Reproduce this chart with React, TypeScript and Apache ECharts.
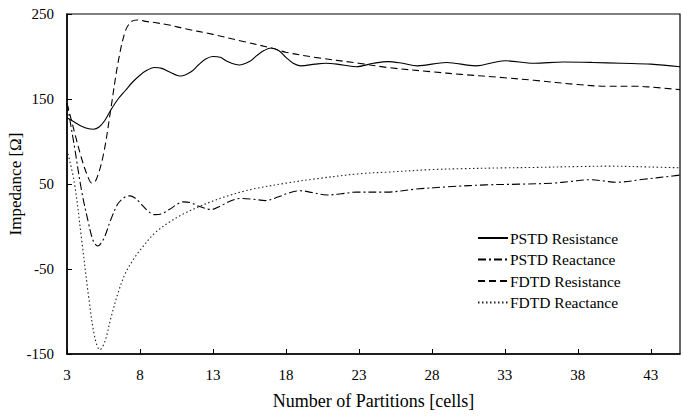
import React, { useEffect, useRef } from "react";
import * as echarts from "echarts";

// x: number of partitions [cells], y: impedance [Ω]
const pstdResistance: number[][] = [
  [3, 128], [3.5, 123], [4, 118], [4.5, 115], [4.8, 114.5], [5.2, 117], [5.6, 125], [6, 137],
  [6.5, 150], [7, 160], [7.5, 170], [8, 178], [8.5, 184], [9, 187], [9.5, 186], [10, 182],
  [10.8, 177], [11.5, 182], [12, 190], [12.5, 197], [13, 200], [13.5, 199], [14, 194], [14.8, 190],
  [15.5, 194], [16, 201], [16.5, 207], [17, 210], [17.5, 207], [18, 199], [18.5, 192], [19, 189],
  [20, 191], [20.7, 192], [21.5, 191], [22.8, 188], [24, 192], [25, 194], [26, 192], [27, 189],
  [29, 193], [31, 189], [33, 195], [35, 192], [37, 193.5], [39, 193], [41, 192], [43, 191], [45, 188],
];

const pstdReactance: number[][] = [
  [3, 145], [3.5, 95], [4, 42], [4.5, 2], [4.8, -17], [5.1, -23], [5.5, -15], [6, 8], [6.5, 27],
  [7, 35], [7.3, 36], [7.7, 33], [8, 28], [8.5, 19], [9, 14], [9.5, 15], [10, 20], [11, 29],
  [11.5, 28], [12, 24], [12.9, 20], [13.5, 24], [14.2, 30], [14.9, 33], [15.8, 32], [16.6, 30.5],
  [17.5, 35], [18.3, 40], [19, 42], [19.8, 40], [20.8, 37], [21.8, 38.5], [22.85, 40.5], [24.9, 40.5],
  [26.9, 44], [29.4, 47], [31.7, 49], [34, 49.8], [36.3, 51], [37.5, 53], [38.8, 55], [39.8, 53.5],
  [40.6, 52], [42.5, 55.5], [44.5, 59.5], [45, 60.5],
];

const fdtdResistance: number[][] = [
  [3, 145], [3.5, 112], [4, 80], [4.4, 60], [4.7, 51], [5, 55], [5.5, 85], [6, 138], [6.5, 193],
  [7, 230], [7.4, 241], [7.8, 243], [8.5, 241], [9, 240], [10, 237], [11, 233], [13, 226], [15, 218],
  [17, 210], [18, 205], [20, 199], [23, 192], [25, 187], [28, 182], [30, 179], [33, 175], [35, 172],
  [38, 167], [40, 165], [42, 165], [43, 164], [45, 161],
];

const fdtdReactance: number[][] = [
  [3, 90], [3.5, 52], [4, -15], [4.5, -85], [4.9, -130], [5.25, -145], [5.6, -135], [6, -108],
  [6.5, -78], [7, -55], [7.5, -40], [8, -28], [9, -8], [10, 5], [11, 15], [12, 23], [13, 30],
  [14, 36], [15, 41], [16, 45], [18, 51], [20, 56], [23, 62], [25, 64], [28, 67], [30, 68],
  [33, 69], [35, 69.5], [38, 70.5], [40, 71], [43, 70], [45, 69],
];

const seriesNames = ["PSTD Resistance", "PSTD Reactance", "FDTD Resistance", "FDTD Reactance"];

// Axis ranges (ticks 3, 8, ..., 43 and -150, -50, ..., 250)
const X_MIN = 3;
const X_MAX = 45;
const X_STEP = 5;
const Y_MIN = -150;
const Y_MAX = 250;
const Y_STEP = 100;

const FONT = "Liberation Serif, Times New Roman, serif";

// shift data so the axis minimum sits at 0 (ticks counted from a multiple of the interval)
const shift = (pts: number[][]) => pts.map(([x, y]) => [x - X_MIN, y - Y_MIN]);

export default function App() {
  const ref = useRef<HTMLDivElement>(null);

  useEffect(() => {
    if (!ref.current) return;
    const chart = echarts.init(ref.current, null, { renderer: "svg" });

    const mk = (name: string, pts: number[][], type: any, color: string, width: number) => ({
      name,
      type: "line",
      data: shift(pts),
      smooth: 0.35,
      symbol: "none",
      lineStyle: { color, width, type },
      itemStyle: { color },
    });

    chart.setOption({
      animation: false,
      backgroundColor: "#fff",
      textStyle: { fontFamily: FONT },
      grid: {
        left: 67,
        right: 4,
        top: 14,
        bottom: 63,
        containLabel: false,
        outerBoundsMode: "none",
        show: true,
        borderColor: "#000",
        borderWidth: 1.2,
        backgroundColor: "transparent",
      },
      legend: {
        orient: "vertical",
        left: 477,
        top: 230,
        padding: 0,
        itemWidth: 30,
        itemHeight: 14,
        itemGap: 5.5,
        data: seriesNames,
        itemStyle: { opacity: 0 },
        textStyle: { fontFamily: FONT, fontSize: 15.5, color: "#000", padding: [0, 0, 0, -3] },
      },
      xAxis: {
        type: "value",
        min: 0,
        max: X_MAX - X_MIN,
        interval: X_STEP,
        name: "Number of Partitions [cells]",
        nameLocation: "middle",
        nameGap: 38,
        nameMoveOverlap: false,
        nameTextStyle: { fontFamily: FONT, fontSize: 18, color: "#000" },
        axisLine: { show: true, lineStyle: { color: "#000", width: 1.5 } },
        axisTick: { show: true, inside: true, length: 5, lineStyle: { color: "#000" } },
        axisLabel: {
          fontFamily: FONT,
          fontSize: 15,
          color: "#000",
          margin: 13,
          showMaxLabel: false,
          formatter: (v: number) => String(v + X_MIN),
        },
        splitLine: { show: false },
      },
      yAxis: {
        type: "value",
        min: 0,
        max: Y_MAX - Y_MIN,
        interval: Y_STEP,
        name: "Impedance [Ω]",
        nameLocation: "middle",
        nameGap: 43,
        nameMoveOverlap: false,
        nameTextStyle: { fontFamily: FONT, fontSize: 17, color: "#000" },
        axisLine: { show: true, lineStyle: { color: "#000", width: 1.5 } },
        axisTick: { show: true, inside: true, length: 5, lineStyle: { color: "#000" } },
        axisLabel: {
          fontFamily: FONT,
          fontSize: 15,
          color: "#000",
          margin: 13,
          formatter: (v: number) => String(v + Y_MIN),
        },
        splitLine: { show: false },
      },
      series: [
        mk(seriesNames[0], pstdResistance, "solid", "#000", 1.1),
        mk(seriesNames[1], pstdReactance, [8, 3, 2, 3], "#000", 1.1),
        mk(seriesNames[2], fdtdResistance, [7, 4], "#000", 1.1),
        mk(seriesNames[3], fdtdReactance, [1.5, 2.5], "#222", 1.1),
      ],
    });

    return () => chart.dispose();
  }, []);

  return <div ref={ref} style={{ width: 684, height: 417, position: "absolute", left: 0, top: 0 }} />;
}
